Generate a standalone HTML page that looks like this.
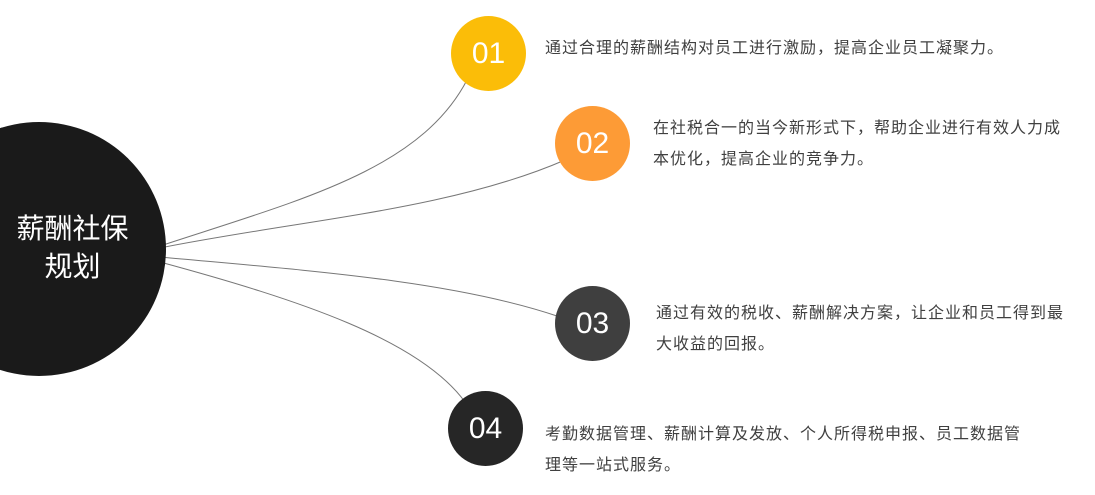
<!DOCTYPE html>
<html><head><meta charset="utf-8"><style>
body{margin:0;width:1095px;height:495px;background:#fff;overflow:hidden;position:relative;font-family:"Liberation Sans","Noto Sans CJK SC",sans-serif}
.c{position:absolute;border-radius:50%;color:#fff;text-align:center;font-size:30px}
.t{position:absolute;font-size:16px;letter-spacing:1px;color:#404040;line-height:31px}
</style></head><body>
<svg width="1095" height="495" style="position:absolute;left:0;top:0">
<g fill="none" stroke="#777" stroke-width="1">
<path d="M160 246 C300 200 420 170 467 80"/>
<path d="M160 248 C300 220 450 210 565 160"/>
<path d="M160 257 C300 270 450 280 557 316"/>
<path d="M160 262 C300 300 420 340 465 402"/>
</g></svg>
<div class="c" style="left:-88px;top:122px;width:254px;height:254px;background:#1a1a1a"></div>
<div style="position:absolute;left:0;top:210px;width:145px;text-align:center;color:#fff;font-size:28px;line-height:38px">薪酬社保<br>规划</div>
<div class="c" style="left:451px;top:16px;width:75px;height:75px;line-height:75px;background:#fbbd08">01</div>
<div class="c" style="left:555px;top:106px;width:75px;height:75px;line-height:75px;background:#fd9b36">02</div>
<div class="c" style="left:555px;top:286px;width:75px;height:75px;line-height:75px;background:#3f3f3f">03</div>
<div class="c" style="left:448px;top:391px;width:75px;height:75px;line-height:75px;background:#262626">04</div>
<div class="t" style="left:545px;top:33px;white-space:nowrap">通过合理的薪酬结构对员工进行激励，提高企业员工凝聚力。</div>
<div class="t" style="left:653px;top:113px;white-space:nowrap">在社税合一的当今新形式下，帮助企业进行有效人力成<br>本优化，提高企业的竞争力。</div>
<div class="t" style="left:656px;top:298px;white-space:nowrap">通过有效的税收、薪酬解决方案，让企业和员工得到最<br>大收益的回报。</div>
<div class="t" style="left:545px;top:419px;white-space:nowrap">考勤数据管理、薪酬计算及发放、个人所得税申报、员工数据管<br>理等一站式服务。</div>
</body></html>
